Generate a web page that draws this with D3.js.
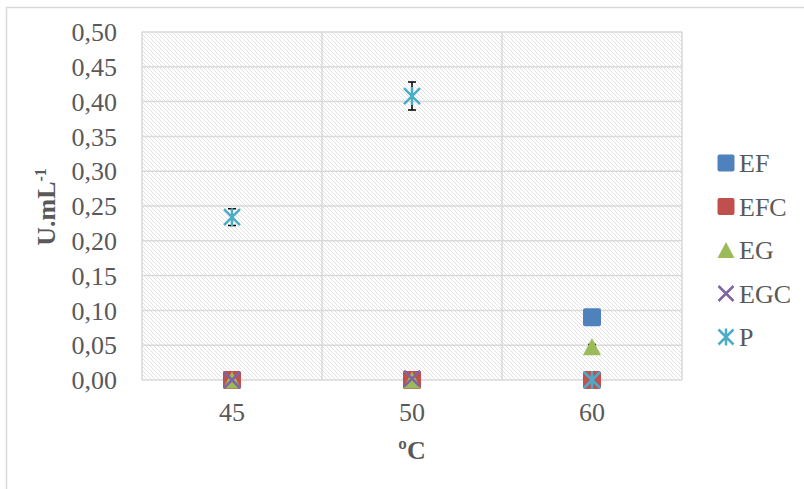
<!DOCTYPE html>
<html>
<head>
<meta charset="utf-8">
<script src="https://cdn.jsdelivr.net/npm/d3@7"></script>
<style>
  body { margin: 0; background: #fff; }
  text { font-family: "Liberation Serif", "Times New Roman", serif; fill: #595959; }
</style>
</head>
<body>
<div id="chart"></div>
<script>
// data
const categories = ["45", "50", "60"];
const seriesNames = ["EF", "EFC", "EG", "EGC", "P"];
const EF  = [0, 0, 0.09];
const EFC = [0, 0, 0];
const EG  = [0, 0, 0.048];
const EGC = [0, 0.002, 0];
const P   = [0.234, 0.408, 0];
const errEG = [0, 0, 0.003];
const errP  = [0.012, 0.02, 0];
const yTicks = [0, 0.05, 0.1, 0.15, 0.2, 0.25, 0.3, 0.35, 0.4, 0.45, 0.5];

const colors = { EF: "#4F81BD", EFC: "#C0504D", EG: "#9BBB59", EGC: "#8064A2", P: "#4BACC6" };
const values = { EF, EFC, EG, EGC, P };
const errors = { EG: errEG, P: errP };

const width = 804, height = 489;
const plot = { left: 142, right: 682, top: 32, bottom: 380 };

const svg = d3.select("#chart").append("svg")
  .attr("width", width).attr("height", height);

// hatch pattern for the plot area
const defs = svg.append("defs");
const pat = defs.append("pattern")
  .attr("id", "hatch").attr("patternUnits", "userSpaceOnUse")
  .attr("width", 4).attr("height", 4);
pat.append("rect").attr("width", 4).attr("height", 4).attr("fill", "#fff");
pat.append("path").attr("d", "M-1,-1 L5,5 M-1,3 L1,5 M3,-1 L5,1")
  .attr("stroke", "#e3e3e3").attr("stroke-width", 1);

// outer chart frame (cut off on the right and bottom)
svg.append("path")
  .attr("d", `M6.5,${height + 5} L6.5,7.5 L${width + 5},7.5`)
  .attr("fill", "none").attr("stroke", "#d9d9d9").attr("stroke-width", 1.5);

const x = d3.scaleBand().domain(categories).range([plot.left, plot.right]);
const y = d3.scaleLinear().domain([0, 0.5]).range([plot.bottom, plot.top]);

svg.append("rect")
  .attr("x", plot.left).attr("y", plot.top)
  .attr("width", plot.right - plot.left).attr("height", plot.bottom - plot.top)
  .attr("fill", "url(#hatch)");

// gridlines
svg.append("g").selectAll("line").data(yTicks).join("line")
  .attr("x1", plot.left).attr("x2", plot.right)
  .attr("y1", d => y(d)).attr("y2", d => y(d))
  .attr("stroke", "#d9d9d9").attr("stroke-width", 1.5);
svg.append("g").selectAll("line").data(categories.concat(["end"])).join("line")
  .attr("x1", (d, i) => i < categories.length ? x(d) : plot.right)
  .attr("x2", (d, i) => i < categories.length ? x(d) : plot.right)
  .attr("y1", plot.top).attr("y2", plot.bottom)
  .attr("stroke", "#d9d9d9").attr("stroke-width", 1.5);

// y tick labels
svg.append("g").selectAll("text").data(yTicks).join("text")
  .attr("x", 117).attr("y", d => y(d))
  .attr("dy", "0.35em").attr("text-anchor", "end")
  .style("font-size", "26px")
  .text(d => d3.format(".2f")(d).replace(".", ","));

// x tick labels
svg.append("g").selectAll("text").data(categories).join("text")
  .attr("x", d => x(d) + x.bandwidth() / 2).attr("y", 412)
  .attr("dy", "0.35em").attr("text-anchor", "middle")
  .style("font-size", "26px")
  .text(d => d);

// axis titles
svg.append("text")
  .attr("x", x("50") + x.bandwidth() / 2).attr("y", 450)
  .attr("dy", "0.35em").attr("text-anchor", "middle")
  .style("font-size", "26px").style("font-weight", "bold")
  .text("ºC");
const yt = svg.append("text")
  .attr("transform", "translate(46,207) rotate(-90)")
  .attr("dy", "0.35em").attr("text-anchor", "middle")
  .style("font-size", "26px").style("font-weight", "bold");
yt.append("tspan").text("U.mL");
yt.append("tspan").attr("dy", "-0.55em").style("font-size", "16px").text("-1");

// marker shapes
function drawMarker(g, name, size) {
  const c = colors[name];
  if (name === "EF" || name === "EFC") {
    g.append("rect").attr("x", -size / 2).attr("y", -size / 2)
      .attr("width", size).attr("height", size).attr("rx", 2)
      .attr("fill", c);
  } else if (name === "EG") {
    const h = size * 0.95;
    g.append("path")
      .attr("d", `M0,${-h / 2} L${size / 2},${h / 2} L${-size / 2},${h / 2} Z`)
      .attr("fill", c);
  } else if (name === "EGC") {
    const s = size / 2 - 1;
    g.append("path").attr("d", `M${-s},${-s} L${s},${s} M${-s},${s} L${s},${-s}`)
      .attr("stroke", c).attr("stroke-width", 2.5).attr("fill", "none");
  } else {
    const s = size / 2 - 1;
    g.append("path")
      .attr("d", `M${-s},${-s} L${s},${s} M${-s},${s} L${s},${-s} M0,${-s - 1} L0,${s + 1}`)
      .attr("stroke", c).attr("stroke-width", 2.5).attr("fill", "none");
  }
}

// error bars
seriesNames.filter(n => errors[n]).forEach(name => {
  const eg = svg.append("g");
  categories.forEach((cat, i) => {
    const e = errors[name][i];
    if (!e) return;
    const cx = x(cat) + x.bandwidth() / 2;
    const v = values[name][i];
    eg.append("path")
      .attr("d", `M${cx},${y(v - e)} L${cx},${y(v + e)} M${cx - 4},${y(v - e)} L${cx + 4},${y(v - e)} M${cx - 4},${y(v + e)} L${cx + 4},${y(v + e)}`)
      .attr("stroke", "#000").attr("stroke-width", 1.5).attr("fill", "none");
  });
});

// points
seriesNames.forEach(name => {
  categories.forEach((cat, i) => {
    const g = svg.append("g")
      .attr("transform", `translate(${x(cat) + x.bandwidth() / 2},${y(values[name][i])})`);
    drawMarker(g, name, 18);
  });
});

// legend
const legend = svg.append("g");
seriesNames.forEach((name, i) => {
  const ly = 163 + i * 43.5;
  const g = legend.append("g").attr("transform", `translate(726,${ly})`);
  drawMarker(g, name, 17);
  legend.append("text")
    .attr("x", 739).attr("y", ly).attr("dy", "0.35em")
    .style("font-size", "26px").text(name);
});
</script>
</body>
</html>
